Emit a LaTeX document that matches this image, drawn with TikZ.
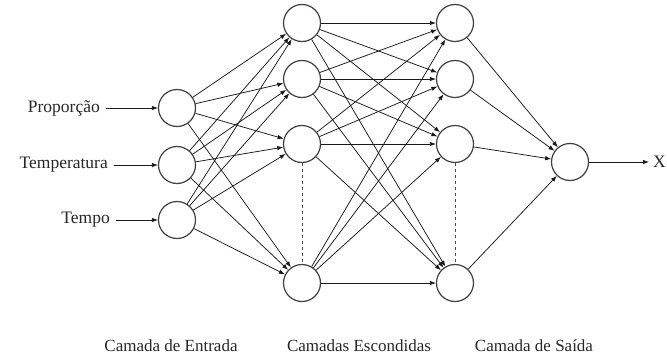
\documentclass[tikz,border=0pt]{standalone}
\usepackage{fontspec}
\setmainfont{Liberation Serif}
\usetikzlibrary{arrows.meta}
\tikzset{
  neuron/.style={circle, draw=black!75, line width=1.2pt, fill=white, minimum size=37pt, inner sep=0pt},
  conn/.style={-{Latex[length=6pt,width=4.5pt]}, line width=0.75pt, draw=black!90},
  rotulo/.style={font=\fontsize{17.5}{20}\selectfont, text=black!85, inner sep=3pt},
  camada/.style={font=\fontsize{17}{20}\selectfont, text=black!85}
}
\begin{document}
\begin{tikzpicture}[x=1pt, y=-1pt]
\useasboundingbox (0,0) rectangle (667,362);
\node[neuron] (in1) at (177,108) {};
\node[neuron] (in2) at (177,165) {};
\node[neuron] (in3) at (177,220) {};
\node[neuron] (ha1) at (302,23) {};
\node[neuron] (ha2) at (302,79) {};
\node[neuron] (ha3) at (302,144) {};
\node[neuron] (ha4) at (302,283) {};
\node[neuron] (hb1) at (455,23) {};
\node[neuron] (hb2) at (455,79) {};
\node[neuron] (hb3) at (455,144) {};
\node[neuron] (hb4) at (455,283) {};
\node[neuron] (out) at (570,162) {};
\node[rotulo, anchor=east] (prop) at (103,108) {Proporção};
\node[rotulo, anchor=east] (temp) at (111,165) {Temperatura};
\node[rotulo, anchor=east] (tempo) at (113,220) {Tempo};
\node[rotulo, anchor=west, inner sep=1pt] (saida) at (652,162) {X};
\node[camada] (entrada) at (171,346) {Camada de Entrada};
\node[camada] (escondidas) at (359,346) {Camadas Escondidas};
\node[camada] (saidacam) at (534,346) {Camada de Saída};
\draw[conn, shorten <=3pt] (prop) -- (in1);
\draw[conn, shorten <=3pt] (temp) -- (in2);
\draw[conn, shorten <=3pt] (tempo) -- (in3);
\foreach \i in {1,2,3}
  \foreach \j in {1,...,4}
    \draw[conn] (in\i) -- (ha\j);
\foreach \i in {1,...,4}
  \foreach \j in {1,...,4}
    \draw[conn] (ha\i) -- (hb\j);
\foreach \i in {1,...,4}
  \draw[conn] (hb\i) -- (out);
\draw[conn, shorten >=3pt] (out) -- (saida);
\draw[dashed, line width=0.75pt, black!70] (ha3) -- (ha4);
\draw[dashed, line width=0.75pt, black!70] (hb3) -- (hb4);
\end{tikzpicture}
\end{document}
